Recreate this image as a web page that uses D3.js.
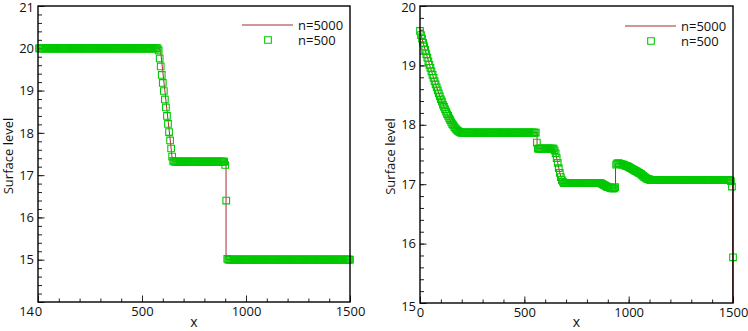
<!DOCTYPE html>
<html>
<head>
<meta charset="utf-8">
<script src="https://cdn.jsdelivr.net/npm/d3@7"></script>
<style>
  body { margin: 0; background: #fff; }
  text { font-family: "Open Sans", sans-serif; fill: #111; }
</style>
</head>
<body>
<svg id="chart" width="748" height="331"></svg>
<script>
// ---------- data ----------
const seriesNames = ['n=5000', 'n=500']
const xTicks = [0, 500, 1000, 1500]
const cellStep = 5 // spacing of the n=500 markers along x

// left panel
const leftYTicks = [14, 15, 16, 17, 18, 19, 20, 21]
const leftFine = [[0, 20], [584, 20], [590, 19.9], [645, 17.4], [650, 17.32], [904, 17.32], [904, 15], [1500, 15]]
const leftCoarseStart = 5
const leftCoarse = [
  20,20,20,20,20,20,20,20,20,20, 20,20,20,20,20,20,20,20,20,20,
  20,20,20,20,20,20,20,20,20,20, 20,20,20,20,20,20,20,20,20,20,
  20,20,20,20,20,20,20,20,20,20, 20,20,20,20,20,20,20,20,20,20,
  20,20,20,20,20,20,20,20,20,20, 20,20,20,20,20,20,20,20,20,20,
  20,20,20,20,20,20,20,20,20,20, 20,20,20,20,20,20,20,20,20,20,
  20,20,20,20,20,20,20,20,20,20, 20,20,20,20,20,
  19.95,19.76,19.57,19.37,19.18,18.99,18.79,18.6,18.4,18.21,18.02,17.82,17.63,17.44,17.34,
  17.32,17.32,17.32,17.32,17.32,17.32,17.32,17.32,17.32,17.32, 17.32,17.32,17.32,17.32,17.32,17.32,17.32,17.32,17.32,17.32,
  17.32,17.32,17.32,17.32,17.32,17.32,17.32,17.32,17.32,17.32, 17.32,17.32,17.32,17.32,17.32,17.32,17.32,17.32,17.32,17.32,
  17.32,17.32,17.32,17.32,17.32,17.32,17.32,17.32,17.32,
  17.24,16.4,15.02,
  15,15,15,15,15,15,15,15,15,15, 15,15,15,15,15,15,15,15,15,15,
  15,15,15,15,15,15,15,15,15,15, 15,15,15,15,15,15,15,15,15,15,
  15,15,15,15,15,15,15,15,15,15, 15,15,15,15,15,15,15,15,15,15,
  15,15,15,15,15,15,15,15,15,15, 15,15,15,15,15,15,15,15,15,15,
  15,15,15,15,15,15,15,15,15,15, 15,15,15,15,15,15,15,15,15,15,
  15,15,15,15,15,15,15,15,15,15, 15,15,15,15,15,15,15,15
]

// right panel
const rightYTicks = [15, 16, 17, 18, 19, 20]
const rightFine = [[0, 19.6], [10, 19.45], [25, 19.26], [50, 18.96], [75, 18.68], [100, 18.43], [125, 18.22],
  [150, 18.04], [170, 17.94], [185, 17.89], [195, 17.87], [561, 17.87], [561, 17.6], [641, 17.6], [650, 17.52],
  [660, 17.36], [670, 17.19], [680, 17.07], [690, 17.02], [866, 17.02], [900, 16.95], [937, 16.93], [937, 17.35],
  [960, 17.35], [1000, 17.29], [1050, 17.19], [1080, 17.11], [1110, 17.07], [1499, 17.07], [1499, 15]]
const rightCoarseStart = 0
const rightCoarse = [
  19.58,19.51,19.45,19.38,19.32,19.26,19.19,19.13,19.07,19.01,18.96,18.9,18.84,18.79,18.73,18.68,18.63,18.58,18.53,18.48,
  18.43,18.39,18.34,18.3,18.26,18.22,18.18,18.15,18.11,18.08,18.04,18.01,17.99,17.96,17.94,17.92,17.9,17.89,17.88,
  17.87,17.87,17.87,17.87,17.87,17.87,17.87,17.87,17.87,17.87, 17.87,17.87,17.87,17.87,17.87,17.87,17.87,17.87,17.87,17.87,
  17.87,17.87,17.87,17.87,17.87,17.87,17.87,17.87,17.87,17.87, 17.87,17.87,17.87,17.87,17.87,17.87,17.87,17.87,17.87,17.87,
  17.87,17.87,17.87,17.87,17.87,17.87,17.87,17.87,17.87,17.87, 17.87,17.87,17.87,17.87,17.87,17.87,17.87,17.87,17.87,17.87,
  17.87,17.87,17.87,17.87,17.87,17.87,17.87,17.87,17.87,17.87, 17.87,17.87,17.87,
  17.7,
  17.6,17.6,17.6,17.6,17.6,17.6,17.6,17.6,17.6,17.6, 17.6,17.6,17.6,17.6,17.6,17.6,
  17.57,17.52,17.44,17.36,17.27,17.19,17.12,17.07,17.04,17.02,
  17.02,17.02,17.02,17.02,17.02,17.02,17.02,17.02,17.02,17.02, 17.02,17.02,17.02,17.02,17.02,17.02,17.02,17.02,17.02,17.02,
  17.02,17.02,17.02,17.02,17.02,17.02,17.02,17.02,17.02,17.02, 17.02,17.02,17.02,17.02,17.02,
  17.01,17,16.99,16.98,16.97,16.96,16.95,16.95,16.94,16.94,16.93,16.93,16.93,16.95,
  17.33,17.35,17.35,17.35,17.34,17.34,17.33,17.33,17.32,17.31,17.31,17.3,17.29,17.28,17.27,17.26,17.25,17.24,
  17.23,17.22,17.21,17.2,17.19,17.18,17.17,17.15,17.14,17.12,17.11,17.1,17.09,17.08,17.08,17.07,17.07,
  17.07,17.07,17.07,17.07,17.07,17.07,17.07,17.07,17.07,17.07, 17.07,17.07,17.07,17.07,17.07,17.07,17.07,17.07,17.07,17.07,
  17.07,17.07,17.07,17.07,17.07,17.07,17.07,17.07,17.07,17.07, 17.07,17.07,17.07,17.07,17.07,17.07,17.07,17.07,17.07,17.07,
  17.07,17.07,17.07,17.07,17.07,17.07,17.07,17.07,17.07,17.07, 17.07,17.07,17.07,17.07,17.07,17.07,17.07,17.07,17.07,17.07,
  17.07,17.07,17.07,17.07,17.07,17.07,17.07,17.07,17.07,17.07, 17.07,17.07,17.07,17.07,17.07,
  17.05,16.96,15.77
]

// ---------- layout ----------
const lineColor = '#a3302f'
const markColor = '#00c800'

const panels = [
  { box: [38, 6, 350, 302], yTicks: leftYTicks, fine: leftFine, coarse: leftCoarse, start: leftCoarseStart,
    legend: [242, 25], bottomShift: 9 },
  { box: [420, 6, 733, 303], yTicks: rightYTicks, fine: rightFine, coarse: rightCoarse, start: rightCoarseStart,
    legend: [625, 26], bottomShift: 3 }
]

const svg = d3.select('#chart')
const square = d3.symbol(d3.symbolSquare, 44)

panels.forEach(p => {
  const [x0, y0, x1, y1] = p.box
  const yExt = d3.extent(p.yTicks)
  const x = d3.scaleLinear().domain(d3.extent(xTicks)).range([x0, x1])
  const y = d3.scaleLinear().domain(yExt).range([y1, y0])
  const g = svg.append('g')

  // minor ticks (every 100 in x, 0.2 in y)
  g.append('g')
    .attr('transform', `translate(0,${y1})`)
    .call(d3.axisBottom(x).tickValues(x.ticks(15)).tickSize(-3.5).tickFormat(''))
  g.append('g')
    .attr('transform', `translate(${x0},0)`)
    .call(d3.axisLeft(y).tickValues(y.ticks((yExt[1] - yExt[0]) * 5)).tickSize(-4).tickFormat(''))

  // major ticks with labels
  g.append('g')
    .attr('transform', `translate(0,${y1})`)
    .call(d3.axisBottom(x).tickValues(xTicks).tickSize(-6.5).tickPadding(5).tickFormat(d3.format('d')))
  const ya = g.append('g')
    .attr('transform', `translate(${x0},0)`)
    .call(d3.axisLeft(y).tickValues(p.yTicks).tickSize(-6.5).tickPadding(4).tickFormat(d3.format('d')))
  ya.selectAll('.tick').filter(d => d === yExt[0]).select('text').attr('y', p.bottomShift)
  ya.selectAll('.tick').filter(d => d === yExt[1]).select('text').attr('y', 1)

  g.selectAll('.domain').remove()
  g.selectAll('.tick line').attr('stroke', '#222').attr('stroke-width', 1)
  g.selectAll('.tick text').style('font-family', '"Open Sans", sans-serif').style('font-size', '13px').attr('fill', '#111')

  // n=5000 line
  g.append('path')
    .datum(p.fine)
    .attr('fill', 'none')
    .attr('stroke', lineColor)
    .attr('stroke-width', 1)
    .attr('d', d3.line().x(d => x(d[0])).y(d => y(d[1])))

  // n=500 markers
  g.append('g').selectAll('path')
    .data(p.coarse)
    .join('path')
    .attr('transform', (d, i) => `translate(${x(p.start + i * cellStep)},${y(d)})`)
    .attr('d', square)
    .attr('fill', 'none')
    .attr('stroke', markColor)
    .attr('stroke-width', 1.1)

  // frame
  g.append('rect')
    .attr('x', x0).attr('y', y0)
    .attr('width', x1 - x0).attr('height', y1 - y0)
    .attr('fill', 'none').attr('stroke', '#000').attr('stroke-width', 1.4)

  // axis titles
  g.append('text')
    .attr('x', (x0 + x1) / 2).attr('y', 327)
    .attr('text-anchor', 'middle')
    .style('font-size', '14px')
    .text('x')
  g.append('text')
    .attr('transform', `translate(${x0 - 25},${(y0 + y1) / 2 + 2}) rotate(-90)`)
    .attr('text-anchor', 'middle')
    .style('font-size', '13px')
    .text('Surface level')

  // legend
  const [lx, ly] = p.legend
  g.append('line')
    .attr('x1', lx).attr('x2', lx + 51).attr('y1', ly).attr('y2', ly)
    .attr('stroke', lineColor).attr('stroke-width', 1.2)
  g.append('path')
    .attr('transform', `translate(${lx + 26},${ly + 15})`)
    .attr('d', square)
    .attr('fill', 'none').attr('stroke', markColor).attr('stroke-width', 1.1)
  g.selectAll('.legend-text')
    .data(seriesNames)
    .join('text')
    .attr('class', 'legend-text')
    .attr('x', lx + 56)
    .attr('y', (d, i) => ly + i * 15)
    .attr('dy', '0.35em')
    .style('font-size', '13px')
    .text(d => d)
})
</script>
</body>
</html>
